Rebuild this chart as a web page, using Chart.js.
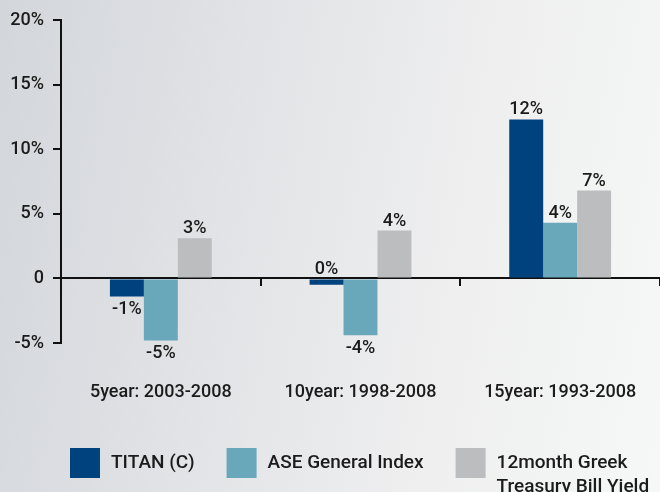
<!DOCTYPE html>
<html>
<head>
<meta charset="utf-8">
<script src="https://cdn.jsdelivr.net/npm/chart.js@4/dist/chart.umd.min.js"></script>
<style>
  html, body { margin: 0; padding: 0; }
  body {
    width: 660px; height: 492px; overflow: hidden;
    background: linear-gradient(100deg, #d3d6db 0%, #e1e3e6 35%, #eeeeef 65%, #f6f7f7 100%);
  }
  #wrap { position: relative; width: 660px; height: 492px; }
</style>
</head>
<body>
<div id="wrap"><canvas id="c" width="660" height="492"></canvas></div>
<script>
// ---- data ----
const categories = ['5year: 2003-2008', '10year: 1998-2008', '15year: 1993-2008'];
const titanValues = [-1.4, -0.5, 12.3];
const aseValues = [-4.8, -4.4, 4.3];
const treasuryValues = [3.1, 3.7, 6.8];
const seriesNames = ['TITAN (C)', 'ASE General Index', ['12month Greek', 'Treasury Bill Yield']];
const yTicks = [-5, 0, 5, 10, 15, 20];

const FONT = 'Roboto, "DejaVu Sans", sans-serif';
const TEXT = '#1b1b1b';

const valueLabels = {
  id: 'valueLabels',
  afterDatasetsDraw(chart) {
    const ctx = chart.ctx;
    ctx.save();
    ctx.font = '500 18px ' + FONT;
    ctx.fillStyle = TEXT;
    ctx.textAlign = 'center';
    chart.data.datasets.forEach((ds, di) => {
      const meta = chart.getDatasetMeta(di);
      meta.data.forEach((el, i) => {
        const r = Math.round(ds.data[i]);
        const txt = (r === 0 ? 0 : r) + '%';
        if (r >= 0) {
          ctx.textBaseline = 'alphabetic';
          ctx.fillText(txt, el.x, Math.min(el.y, el.base) - 5);
        } else {
          ctx.textBaseline = 'top';
          ctx.fillText(txt, el.x, Math.max(el.y, el.base) + 4);
        }
      });
    });
    ctx.restore();
  }
};

// legend drawn below the plot, one row, multi-line labels allowed
const bottomLegend = {
  id: 'bottomLegend',
  afterDraw(chart, args, opts) {
    const ctx = chart.ctx;
    ctx.save();
    ctx.font = '500 19px ' + FONT;
    ctx.fillStyle = TEXT;
    ctx.textBaseline = 'middle';
    ctx.textAlign = 'left';
    let x = opts.startX;
    const top = opts.top;
    chart.data.datasets.forEach(ds => {
      const lines = Array.isArray(ds.label) ? ds.label : [ds.label];
      ctx.fillStyle = ds.backgroundColor;
      ctx.fillRect(x, top, opts.box, opts.box);
      ctx.fillStyle = TEXT;
      const tx = x + opts.box + opts.textGap;
      let w = 0;
      lines.forEach((ln, k) => {
        ctx.fillText(ln, tx, top + opts.box / 2 + k * opts.lineHeight);
        w = Math.max(w, ctx.measureText(ln).width);
      });
      x = tx + w + opts.itemGap;
    });
    ctx.restore();
  }
};

new Chart(document.getElementById('c'), {
  type: 'bar',
  data: {
    labels: categories,
    datasets: [
      { label: seriesNames[0], data: titanValues, backgroundColor: '#00427e', xAxisID: 'x', borderWidth: 0 },
      { label: seriesNames[1], data: aseValues, backgroundColor: '#68a8ba', xAxisID: 'x', borderWidth: 0 },
      { label: seriesNames[2], data: treasuryValues, backgroundColor: '#bcbdbf', xAxisID: 'x', borderWidth: 0 }
    ]
  },
  options: {
    responsive: false,
    animation: false,
    devicePixelRatio: 1,
    layout: { padding: { top: 20, left: 0, right: 0, bottom: 54 } },
    datasets: { bar: { categoryPercentage: 0.51, barPercentage: 1 } },
    plugins: {
      tooltip: { enabled: false },
      legend: { display: false },
      bottomLegend: { startX: 70, top: 448, box: 30, textGap: 11, itemGap: 32, lineHeight: 24 }
    },
    scales: {
      x: {
        type: 'category',
        position: { y: 0 },
        grid: { display: true, offset: true, drawOnChartArea: false, drawTicks: true, tickLength: 7, color: '#111', lineWidth: 2 },
        border: { display: true, color: '#111', width: 2 },
        ticks: { display: false }
      },
      x2: {
        type: 'category',
        labels: categories,
        position: 'bottom',
        grid: { display: true, drawOnChartArea: false, drawTicks: true, tickLength: 37, color: 'rgba(0,0,0,0)' },
        border: { display: false },
        ticks: { padding: 2, color: TEXT, font: { family: FONT, size: 18, weight: '500' } },
        afterFit(scale) { scale.height = 95; }
      },
      y: {
        min: yTicks[0],
        max: yTicks[yTicks.length - 1],
        afterBuildTicks(scale) { scale.ticks = yTicks.map(v => ({ value: v })); },
        grid: { display: true, drawOnChartArea: false, drawTicks: true, tickLength: 8, color: '#111', lineWidth: 2 },
        border: { display: true, color: '#111', width: 2 },
        ticks: {
          padding: 9,
          color: TEXT,
          font: { family: FONT, size: 18, weight: '500' },
          callback: v => (v === 0 ? '0' : v + '%')
        },
        afterFit(scale) { scale.width = 61; }
      }
    }
  },
  plugins: [valueLabels, bottomLegend]
});
</script>
</body>
</html>
